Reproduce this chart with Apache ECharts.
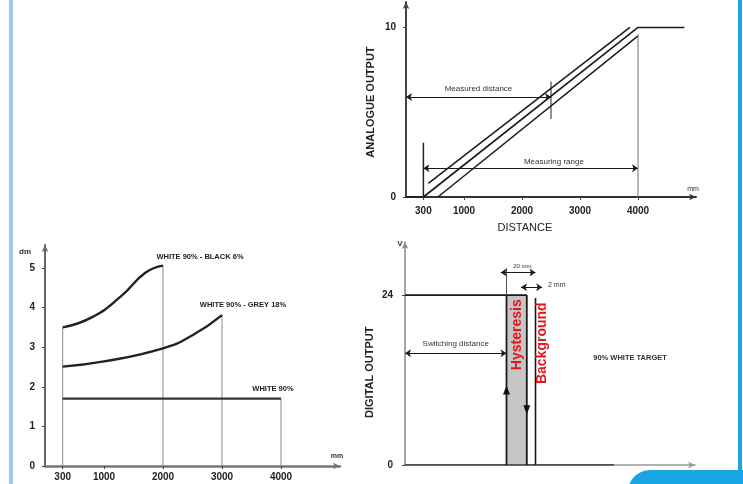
<!DOCTYPE html>
<html><head><meta charset="utf-8">
<script src="https://cdn.jsdelivr.net/npm/echarts@6/dist/echarts.min.js"></script>
<style>html,body{margin:0;padding:0;background:#fff}#c{width:743px;height:484px}</style>
</head><body><div id="c"></div>
<script>
// ---------- Analogue output (top right) ----------
const anaTicksX = [300, 1000, 2000, 3000, 4000];
const anaTicksY = [0, 10];
const anaMid = [[0, 0], [300, 0], [4000, 10], [4800, 10]];
const anaUpper = [[385, 0.8], [3860, 10]];
const anaLower = [[550, 0], [4000, 9.5]];
const anaStartGuide = [[300, 0], [300, 3.2]];
const anaEndGuide = [[4000, 0], [4000, 9.6]];
const anaCrossTick = [[2500, 4.6], [2500, 6.8]];
const anaMeasuredDist = [[0, 5.9], [2500, 5.9]];
const anaMeasuringRange = [[300, 1.7], [4000, 1.7]];

// ---------- Spot size (bottom left) ----------
const spotTicksX = [300, 1000, 2000, 3000, 4000];
const spotTicksY = [0, 1, 2, 3, 4, 5];
const spotBlack = [[300, 3.5], [800, 3.76], [1300, 4.3], [1700, 4.88], [2000, 5.06]];
const spotGrey = [[300, 2.51], [1000, 2.64], [2000, 2.97], [2500, 3.3], [3000, 3.81]];
const spotWhite = [[300, 1.7], [4000, 1.7]];
const spotNames = ['WHITE 90% - BLACK 6%', 'WHITE 90% - GREY 18%', 'WHITE 90%'];

// ---------- Digital output (bottom right) ----------
const digTicksY = [0, 24];
const digHigh = [[0, 24], [42, 24]];
const digSwitchEdge = [[35, 0], [35, 24]];
const digHystEdge = [[42, 0], [42, 24]];
const digBackground = [[45, 0], [45, 23.6]];
const digBase = [[0, 0], [72, 0]];
const digSwitchDist = [[0, 15.8], [35, 15.8]];
const dig20mm = [[33, 27.2], [45, 27.2]];
const dig20mmExt = [[35, 24], [35, 27.8]];
const dig2mm = [[40, 25.1], [47.3, 25.1]];

const FONT = '"Liberation Sans", Arial, sans-serif';
const ink = '#1a1a1a';

function ln(data, xi, color, width, extra) {
  return Object.assign({
    type: 'line', xAxisIndex: xi, yAxisIndex: xi, data: data, symbol: 'none',
    lineStyle: { color: color, width: width }, itemStyle: { color: color }, silent: true
  }, extra || {});
}
function arrowLine(pairs, color) {
  return {
    silent: true, symbol: ['arrow', 'arrow'], symbolSize: 6, animation: false,
    lineStyle: { color: color || ink, width: 1, type: 'solid' }, label: { show: false },
    data: pairs.map(p => [{ coord: p[0] }, { coord: p[1] }])
  };
}

const axisBase = (min, max, ticks, lineColor, lineW, labelMargin) => ({
  type: 'value', min: min, max: max, splitLine: { show: false },
  axisLine: { show: true, symbol: ['none', 'arrow'], symbolSize: [5, 7], lineStyle: { color: lineColor, width: lineW } },
  axisTick: { show: true, customValues: ticks, length: 3, lineStyle: { color: '#444' } },
  axisLabel: { show: true, customValues: ticks, margin: labelMargin, color: '#222', fontFamily: FONT, fontWeight: 'bold', fontSize: 10,
               formatter: v => String(v) }
});

const option = {
  animation: false,
  backgroundColor: '#fff',
  grid: [
    { left: 406, right: 47, top: 2, bottom: 287 },
    { left: 45, right: 403, top: 245, bottom: 18 },
    { left: 405, right: 48, top: 242, bottom: 19 }
  ],
  xAxis: [
    axisBase(0, 5000, anaTicksX, '#333', 2, 9),
    Object.assign(axisBase(0, 5000, spotTicksX, '#777', 2.5, 6), { gridIndex: 1 }),
    Object.assign(axisBase(0, 100, [], '#999', 1.5, 6), { gridIndex: 2, axisLabel: { show: false }, axisTick: { show: false } })
  ],
  yAxis: [
    axisBase(0, 11.5, anaTicksY, '#444', 2, 10),
    Object.assign(axisBase(0, 5.58, spotTicksY, '#666', 2, 10), { gridIndex: 1 }),
    Object.assign(axisBase(0, 31.5, digTicksY, '#888', 1.5, 12), { gridIndex: 2 })
  ],
  series: [
    // analogue
    ln(anaMid, 0, ink, 1.6, { markLine: arrowLine([anaMeasuredDist, anaMeasuringRange]) }),
    ln(anaUpper, 0, ink, 1.5),
    ln(anaLower, 0, ink, 1.5),
    ln(anaStartGuide, 0, '#222', 1.5),
    ln(anaEndGuide, 0, '#777', 1),
    ln(anaCrossTick, 0, '#222', 1),
    // spot
    ln([[300, 0], spotBlack[0]], 1, '#888', 1),
    ln([[2000, 0], spotBlack[spotBlack.length - 1]], 1, '#888', 1),
    ln([[3000, 0], spotGrey[spotGrey.length - 1]], 1, '#888', 1),
    ln([[4000, 0], spotWhite[1]], 1, '#888', 1),
    ln(spotBlack, 1, '#222', 2.4, { smooth: 0.5 }),
    ln(spotGrey, 1, '#222', 2.4, { smooth: 0.5 }),
    ln(spotWhite, 1, '#333', 2.4),
    // digital
    ln(digBase, 2, '#333', 1.6),
    ln(digHigh, 2, ink, 1.6, {
      markArea: { silent: true, itemStyle: { color: '#c6c6c6' }, data: [[{ coord: [35, 0] }, { coord: [42, 24] }]] },
      markLine: arrowLine([digSwitchDist, dig20mm, dig2mm]),
      markPoint: {
        silent: true, label: { show: false }, itemStyle: { color: '#111' },
        data: [
          { coord: [35, 10.6], symbol: 'triangle', symbolSize: [7, 9] },
          { coord: [42, 7.8], symbol: 'triangle', symbolRotate: 180, symbolSize: [7, 9] }
        ]
      }
    }),
    ln(digSwitchEdge, 2, ink, 1.8),
    ln(digHystEdge, 2, ink, 1.8),
    ln(digBackground, 2, ink, 1.6),
    ln(dig20mmExt, 2, '#555', 1)
  ]
};

const chart = echarts.init(document.getElementById('c'), null, { renderer: 'canvas' });
chart.setOption(option);

const P = (g, x, y) => chart.convertToPixel({ gridIndex: g }, [x, y]);
function txt(pt, text, font, fill, dx, dy, rot, align) {
  return {
    type: 'text', x: pt[0] + (dx || 0), y: pt[1] + (dy || 0), rotation: rot || 0, silent: true, z: 50,
    style: { text: text, font: font, fill: fill || '#222', align: align || 'center', verticalAlign: 'middle',
             textAlign: align || 'center', textVerticalAlign: 'middle' }
  };
}
const a0 = P(0, 0, 0), b0 = P(1, 0, 0), c0 = P(2, 0, 0);
const graphics = [
  // decorations
  { type: 'rect', shape: { x: 9, y: 0, width: 4, height: 484 }, style: { fill: '#9ccaf0' }, silent: true },
  { type: 'rect', shape: { x: 738, y: 0, width: 4, height: 472 }, style: { fill: '#1ea6e6' }, silent: true },
  { type: 'rect', shape: { x: 628, y: 470, width: 120, height: 30, r: [22, 0, 0, 0] }, style: { fill: '#18a6e6' }, silent: true },
  // analogue
  txt([a0[0] - 35, P(0, 0, 5.6)[1]], 'ANALOGUE OUTPUT', 'bold 11px ' + FONT, '#222', 0, 0, Math.PI / 2),
  txt(P(0, 2050, 0), 'DISTANCE', '11px ' + FONT, '#222', 0, 31),
  txt(P(0, 4950, 0), 'mm', '7px ' + FONT, '#333', 0, -8),
  txt(P(0, 1250, 5.9), 'Measured distance', '8px ' + FONT, '#333', 0, -8),
  txt(P(0, 2550, 1.7), 'Measuring range', '8px ' + FONT, '#333', 0, -6),
  // spot
  txt([b0[0] - 20, P(1, 0, 5.4)[1]], 'dm', 'bold 8px ' + FONT, '#333'),
  txt(P(1, 4950, 0), 'mm', 'bold 7px ' + FONT, '#333', 0, -10),
  txt(P(1, spotBlack[spotBlack.length - 1][0], spotBlack[spotBlack.length - 1][1]), spotNames[0], 'bold 7.5px ' + FONT, '#222', 37, -9),
  txt(P(1, spotGrey[spotGrey.length - 1][0], spotGrey[spotGrey.length - 1][1]), spotNames[1], 'bold 7.5px ' + FONT, '#222', 21, -10),
  txt(P(1, spotWhite[1][0], spotWhite[1][1]), spotNames[2], 'bold 7.5px ' + FONT, '#222', -8, -10),
  // digital
  txt([c0[0] - 35, P(2, 0, 13.1)[1]], 'DIGITAL OUTPUT', 'bold 11px ' + FONT, '#222', 0, 0, Math.PI / 2),
  txt(P(2, 0, 31.5), 'V', 'bold 8px ' + FONT, '#333', -5, 2),
  txt(P(2, 17.5, 15.8), 'Switching distance', '8px ' + FONT, '#333', 0, -9),
  txt(P(2, 40.5, 27.2), '20 mm', '6px ' + FONT, '#333', 0, -6),
  txt(P(2, 49.3, 25.4), '2 mm', '7px ' + FONT, '#333', 0, 0, 0, 'left'),
  txt(P(2, 77.6, 15.1), '90% WHITE TARGET', 'bold 7.5px ' + FONT, '#333'),
  txt(P(2, 38.6, 18.4), 'Hysteresis', 'bold 14px ' + FONT, '#e8141c', 0, 0, Math.PI / 2),
  txt(P(2, 47.3, 17.2), 'Background', 'bold 14px ' + FONT, '#e8141c', 0, 0, Math.PI / 2)
];
chart.setOption({ graphic: graphics });
</script>
</body></html>
